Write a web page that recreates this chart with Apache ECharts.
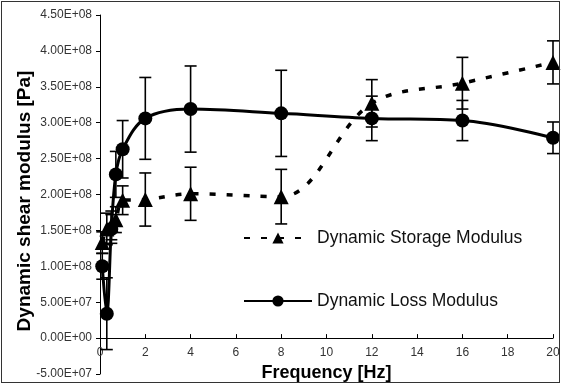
<!DOCTYPE html>
<html>
<head>
<meta charset="utf-8">
<script src="https://cdn.jsdelivr.net/npm/echarts@6/dist/echarts.min.js"></script>
<style>
  html, body { margin: 0; padding: 0; background: #fff; overflow: hidden; }
  #wrap { position: relative; width: 562px; height: 385px; }
  #chart { width: 562px; height: 385px; }
  /* outer frame of the figure */
  #frame {
    position: absolute; left: 1px; top: 1px; width: 557px; height: 380px;
    border: 1.5px solid #333; pointer-events: none;
  }
</style>
</head>
<body>
<div id="wrap">
  <div id="chart"></div>
  <div id="frame"></div>
</div>
<script>
// Frequency sweep (Hz)
const freq = [0.1, 0.3, 0.5, 0.7, 1, 2, 4, 8, 12, 16, 20];
// Dynamic storage modulus (Pa) and its error
const storage = [1.33e8, 1.52e8, 1.57e8, 1.65e8, 1.92e8, 1.93e8, 2.01e8, 1.97e8, 3.27e8, 3.55e8, 3.84e8];
const storageErr = [0.15e8, 0.22e8, 0.2e8, 0.18e8, 0.2e8, 0.37e8, 0.37e8, 0.38e8, 0.33e8, 0.36e8, 0.3e8];
// Dynamic loss modulus (Pa) and its error
const loss = [1.0e8, 0.34e8, 1.52e8, 2.28e8, 2.63e8, 3.06e8, 3.19e8, 3.13e8, 3.06e8, 3.03e8, 2.79e8];
const lossErr = [0.18e8, 0.5e8, 0.2e8, 0.32e8, 0.4e8, 0.57e8, 0.6e8, 0.6e8, 0.31e8, 0.28e8, 0.22e8];
// Axis tick labels
const yTickLabels = ['-5.00E+07', '0.00E+00', '5.00E+07', '1.00E+08', '1.50E+08', '2.00E+08',
                     '2.50E+08', '3.00E+08', '3.50E+08', '4.00E+08', '4.50E+08'];
const xTickLabels = ['0', '2', '4', '6', '8', '10', '12', '14', '16', '18', '20'];

const Y_MIN = -5e7, Y_MAX = 4.5e8, Y_STEP = 5e7;
const X_MIN = 0, X_MAX = 20, X_STEP = 2;

const GRID = { left: 100, right: 9, top: 15, bottom: 11 };
// lift from the plot bottom to the zero line, so the frequency axis sits on y = 0
const plotH = 385 - GRID.top - GRID.bottom;
const zeroLift = plotH * (0 - Y_MIN) / (Y_MAX - Y_MIN);

const FONT = 'Liberation Sans, Arial, sans-serif';

const pairs = (ys) => freq.map((f, i) => [f, ys[i]]);
const errRows = (ys, es) => freq.map((f, i) => [f, ys[i] - es[i], ys[i] + es[i]]);

function errorBars(params, api) {
  const x = api.value(0);
  const lo = api.coord([x, api.value(1)]);
  const hi = api.coord([x, api.value(2)]);
  const cap = 6;
  const style = { stroke: '#000', lineWidth: 1.6 };
  return {
    type: 'group',
    children: [
      { type: 'line', shape: { x1: lo[0], y1: lo[1], x2: hi[0], y2: hi[1] }, style },
      { type: 'line', shape: { x1: lo[0] - cap, y1: lo[1], x2: lo[0] + cap, y2: lo[1] }, style },
      { type: 'line', shape: { x1: hi[0] - cap, y1: hi[1], x2: hi[0] + cap, y2: hi[1] }, style }
    ]
  };
}

const chart = echarts.init(document.getElementById('chart'), null, { renderer: 'canvas' });

chart.setOption({
  animation: false,
  backgroundColor: '#fff',
  grid: Object.assign({ containLabel: false, outerBoundsMode: 'none' }, GRID),
  xAxis: [
    { type: 'value', min: X_MIN, max: X_MAX, interval: X_STEP, show: false },
    {
      type: 'value',
      position: 'bottom',
      offset: -zeroLift,
      min: X_MIN, max: X_MAX, interval: X_STEP,
      name: 'Frequency [Hz]',
      nameLocation: 'middle',
      nameGap: 18,
      nameTextStyle: { fontFamily: FONT, fontWeight: 'bold', fontSize: 18, color: '#000' },
      axisLine: { show: true, onZero: false, lineStyle: { color: '#000' } },
      axisTick: { show: true, inside: true, length: 4, lineStyle: { color: '#000' } },
      axisLabel: {
        fontFamily: FONT, fontSize: 12, color: '#333', margin: 9,
        formatter: (v) => xTickLabels[Math.round((v - X_MIN) / X_STEP)]
      },
      splitLine: { show: false }
    }
  ],
  yAxis: {
    type: 'value',
    min: Y_MIN, max: Y_MAX, interval: Y_STEP,
    axisLine: { show: true, onZero: false, lineStyle: { color: '#000' } },
    axisTick: { show: true, length: 4, lineStyle: { color: '#000' } },
    axisLabel: {
      fontFamily: FONT, fontSize: 12, color: '#333', margin: 8,
      formatter: (v) => yTickLabels[Math.round((v - Y_MIN) / Y_STEP)]
    },
    splitLine: { show: false }
  },
  legend: [
    {
      data: ['Dynamic Storage Modulus'],
      left: 243, top: 229, padding: 0,
      itemWidth: 68, itemHeight: 14, itemGap: 5,
      textStyle: { fontFamily: FONT, fontSize: 17.5, color: '#111' }
    },
    {
      data: ['Dynamic Loss Modulus'],
      left: 243, top: 292, padding: 0,
      itemWidth: 68, itemHeight: 14, itemGap: 5,
      textStyle: { fontFamily: FONT, fontSize: 17.5, color: '#111' }
    }
  ],
  graphic: [
    {
      // vertical axis title
      type: 'text', x: 25, y: 201, rotation: Math.PI / 2,
      style: {
        text: 'Dynamic shear modulus [Pa]',
        fontFamily: FONT, fontWeight: 'bold', fontSize: 19, fill: '#000',
        align: 'center', verticalAlign: 'middle'
      }
    }
  ],
  series: [
    { type: 'custom', renderItem: errorBars, data: errRows(storage, storageErr), encode: { x: 0, y: [1, 2] } },
    { type: 'custom', renderItem: errorBars, data: errRows(loss, lossErr), encode: { x: 0, y: [1, 2] } },
    {
      type: 'line',
      name: 'Dynamic Storage Modulus',
      data: pairs(storage),
      smooth: 0.35,
      symbol: 'triangle',
      symbolSize: 15,
      lineStyle: { color: '#000', width: 3.5, type: [6, 11] },
      itemStyle: { color: '#000' }
    },
    {
      type: 'line',
      name: 'Dynamic Loss Modulus',
      data: pairs(loss),
      smooth: 0.35,
      symbol: 'circle',
      symbolSize: 14,
      lineStyle: { color: '#000', width: 3 },
      itemStyle: { color: '#000' }
    }
  ]
});
</script>
</body>
</html>
